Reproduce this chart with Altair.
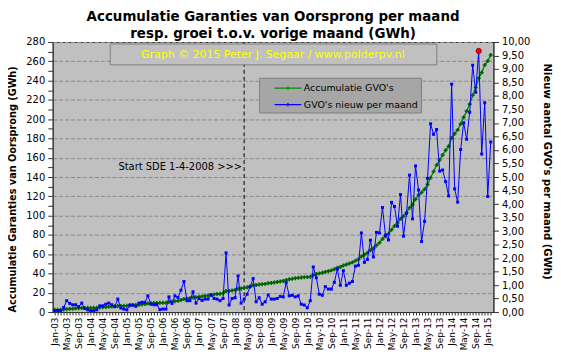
import altair as alt
import pandas as pd

# ---------------- data ----------------
month_names = ["Jan", "Feb", "Mar", "Apr", "May", "Jun", "Jul", "Aug", "Sep", "Oct", "Nov", "Dec"]
years = list(range(2003, 2016))
n_months = 146  # Jan-03 .. Feb-15
months = [f"{m}-{str(y)[2:]}" for y in years for m in month_names][:n_months]

# GVO's nieuw per maand (GWh), right axis
new_monthly = [
    0.05, 0.05, 0.05, 0.17, 0.42, 0.32, 0.27, 0.27, 0.20, 0.33,
    0.13, 0.08, 0.05, 0.05, 0.08, 0.23, 0.23, 0.29, 0.33, 0.27,
    0.20, 0.48, 0.15, 0.11, 0.08, 0.26, 0.26, 0.21, 0.33, 0.36,
    0.36, 0.60, 0.29, 0.27, 0.27, 0.09, 0.11, 0.11, 0.56, 0.32,
    0.60, 0.54, 0.81, 1.13, 0.42, 0.42, 0.75, 0.33, 0.50, 0.43,
    0.48, 0.48, 0.64, 0.50, 0.48, 0.42, 0.50, 2.19, 0.26, 0.50,
    0.53, 1.34, 0.33, 0.48, 0.66, 0.94, 1.24, 0.38, 0.53, 0.29,
    0.38, 0.63, 0.48, 0.48, 0.50, 0.58, 0.56, 1.09, 0.60, 0.62,
    0.56, 0.60, 0.29, 0.26, 0.16, 0.42, 1.67, 1.27, 0.66, 0.62,
    0.94, 0.85, 0.85, 1.10, 1.59, 0.99, 1.53, 0.99, 1.07, 1.13,
    1.70, 1.73, 2.93, 1.84, 1.95, 2.66, 2.04, 2.95, 2.93, 3.87,
    2.85, 2.67, 4.06, 3.91, 3.18, 4.35, 2.81, 3.66, 5.07, 3.45,
    5.41, 4.52, 2.61, 3.36, 4.95, 6.97, 6.58, 6.76, 5.22, 5.26,
    4.83, 4.30, 8.44, 4.56, 4.07, 6.02, 7.01, 6.40, 7.40, 9.14,
    8.14, 9.67, 5.85, 7.75, 4.28, 6.30,
]

# Accumulatie GVO's (GWh), left axis
accumulation = [
    2.4, 2.4, 2.4, 2.6, 3.0, 3.3, 3.5, 3.8, 3.9, 4.2,
    4.3, 4.4, 4.4, 4.4, 4.5, 4.7, 4.9, 5.1, 5.5, 5.7,
    5.9, 6.3, 6.4, 6.5, 6.6, 6.8, 7.0, 7.2, 7.5, 7.9,
    8.2, 8.8, 9.0, 9.3, 9.5, 9.6, 9.6, 9.7, 10.3, 10.6,
    11.1, 11.6, 12.4, 13.5, 13.9, 14.3, 15.0, 15.3, 15.8, 16.2,
    16.7, 17.1, 17.7, 18.2, 18.6, 19.0, 19.5, 21.7, 21.9, 22.4,
    22.9, 24.2, 24.5, 24.9, 25.6, 26.5, 27.7, 28.1, 28.6, 28.8,
    29.2, 29.8, 30.2, 30.7, 31.1, 31.7, 32.2, 33.3, 33.9, 34.5,
    35.0, 35.6, 35.8, 36.1, 36.2, 36.6, 38.2, 39.5, 40.1, 40.7,
    41.6, 42.4, 43.2, 44.3, 45.9, 46.8, 48.3, 49.3, 50.3, 51.5,
    53.1, 54.8, 57.7, 59.5, 61.5, 64.1, 66.1, 69.0, 71.9, 75.8,
    78.6, 81.2, 85.3, 89.2, 92.3, 96.6, 99.4, 103.0, 108.1, 111.5,
    116.9, 121.4, 124.0, 127.3, 132.2, 139.2, 145.7, 152.4, 157.6, 162.9,
    167.7, 171.9, 180.4, 184.9, 188.9, 194.9, 201.9, 208.3, 215.6, 224.8,
    232.9, 242.5, 248.3, 256.1, 260.3, 266.6,
]

series_names = ["Accumulatie GVO's", "GVO's nieuw per maand"]
series_colors = ["#009000", "#0000FF"]
sde_start_index = [63]  # Apr-08
sde_label = ["Start SDE 1-4-2008 >>>"]
credit = ["Graph \u00a9 2015 Peter J. Segaar / www.polderpv.nl"]
title_lines = ["Accumulatie Garanties van Oorsprong per maand",
               "resp. groei t.o.v. vorige maand (GWh)"]
left_title = "Accumulatie Garanties van Oorsprong (GWh)"
right_title = "Nieuw aantal GVO's per maand (GWh)"
left_ticks = list(range(0, 281, 10))
right_ticks = [k / 2 for k in range(0, 21)]

df = pd.DataFrame({
    "i": list(range(n_months)),
    "month": months,
    "new": new_monthly,
    "acc": accumulation,
})

FONT = "DejaVu Sans"

label_arr = "[" + ",".join(("'" + m + "'") if k % 4 == 0 else "''" for k, m in enumerate(months)) + "]"

x_enc = alt.X(
    "i:Q",
    scale=alt.Scale(domain=[-0.66, 145.9], nice=False, zero=False),
    axis=alt.Axis(
        values=list(range(n_months)),
        labelExpr=label_arr + "[datum.value]",
        labelAngle=-90,
        labelFontSize=9,
        labelOverlap=False,
        labelFlush=False,
        labelPadding=2,
        tickSize=3,
        grid=False,
        title=None,
    ),
)

color_enc = alt.Color(
    "series:N",
    scale=alt.Scale(domain=series_names, range=series_colors),
    legend=alt.Legend(
        title=None,
        orient="none",
        legendX=208,
        legendY=36,
        fillColor="#A6A6A6",
        strokeColor="#7F7F7F",
        padding=3,
        rowPadding=4.5,
        symbolType="M-2,0H2M0,-0.25V0.25",
        symbolSize=182,
        symbolStrokeWidth=1.3,
        symbolOffset=18.5,
        labelFont=FONT,
        labelFontSize=9.5,
        labelColor="black",
        labelOffset=8.5,
        labelLimit=300,
        labelExpr="datum.label + '\u00a0\u00a0\u00a0\u00a0'",
    ),
)

y_left = alt.Y(
    "acc:Q",
    scale=alt.Scale(domain=[0, 280], nice=False),
    axis=alt.Axis(
        values=left_ticks,
        labelExpr="datum.value % 20 === 0 ? datum.label : ''",
        labelFontSize=10,
        tickSize=5,
        labelPadding=3,
        grid=True,
        gridColor="#8A8A8A",
        gridDash=[4, 2],
        gridOpacity={"condition": {"test": "datum.value % 20 === 0", "value": 1}, "value": 0},
        title=left_title,
        titleFont=FONT,
        titleFontSize=9.8,
        titleFontWeight="bold",
        titleX=-40,
        titleY=148,
        titleBaseline="middle",
    ),
)

y_right = alt.Y(
    "new:Q",
    scale=alt.Scale(domain=[0, 10], nice=False),
    axis=alt.Axis(
        orient="right",
        values=right_ticks,
        labelExpr="replace(format(datum.value, '.2f'), '.', ',')",
        labelFontSize=10,
        tickSize=5,
        labelPadding=3,
        grid=False,
        title=right_title,
        titleFont=FONT,
        titleFontSize=10.2,
        titleFontWeight="bold",
        titleX=53,
        titleY=130,
        titleBaseline="middle",
    ),
)

base = alt.Chart(df)

sde_df = pd.DataFrame({"i": sde_start_index, "label": sde_label})
sde_rule = alt.Chart(sde_df).mark_rule(color="black", strokeDash=[4, 3], strokeWidth=1).encode(
    x=x_enc
)
sde_text = alt.Chart(sde_df).mark_text(
    align="right", baseline="middle", font=FONT, fontSize=10, color="black", dx=-2
).encode(
    x=x_enc,
    y=alt.value(126),
    text="label:N",
)

green_line = base.mark_line(strokeWidth=1.4).encode(
    x=x_enc, y=y_left, color=color_enc
).transform_calculate(series="\"" + series_names[0] + "\"")
green_pts = base.mark_point(shape="cross", filled=True, size=16, color="#006400", opacity=1).encode(
    x=x_enc, y=y_left
)

left_group = alt.layer(sde_rule, sde_text, green_line, green_pts)

blue_line = base.mark_line(strokeWidth=1).encode(
    x=x_enc, y=y_right, color=color_enc
).transform_calculate(series="\"" + series_names[1] + "\"")
blue_pts = base.mark_square(size=9, color="#0000FF", opacity=1).encode(x=x_enc, y=y_right)
max_pt = base.mark_circle(size=28, color="#FF0000", opacity=1, stroke="#800000", strokeWidth=0.8).encode(
    x=x_enc, y=y_right
).transform_joinaggregate(maxv="max(new)").transform_filter("datum.new == datum.maxv")

right_group = alt.layer(blue_line, blue_pts, max_pt)

credit_df = pd.DataFrame({"t": credit})
credit_box = alt.Chart(credit_df).mark_rect(fill="#C0C0C0", stroke="#7F7F7F", strokeWidth=1).encode(
    x=alt.value(58), x2=alt.value(387), y=alt.value(2), y2=alt.value(23)
)
credit_text = alt.Chart(credit_df).mark_text(
    font=FONT, fontSize=11, color="#FFFF00", align="center", baseline="middle"
).encode(x=alt.value(222), y=alt.value(13), text="t:N")

chart = (
    alt.layer(left_group, right_group, credit_box, credit_text)
    .resolve_scale(y="independent")
    .properties(
        width=444,
        height=272,
        autosize=alt.AutoSizeParams(type="none"),
        padding={"left": 45, "top": 33, "right": 60, "bottom": 40},
        background="white",
        title=alt.Title(
            title_lines,
            font=FONT,
            fontSize=13.5,
            fontWeight="bold",
            color="black",
            anchor="middle",
            offset=6,
            dy=9,
            lineHeight=16.5,
        ),
    )
    .configure_view(fill="#C0C0C0", stroke="#333333", strokeWidth=1)
    .configure_axis(
        labelFont=FONT,
        labelColor="black",
        domainColor="#333333",
        tickColor="#333333",
        titleColor="black",
    )
)

chart.save("out.html", embed_options={"renderer": "svg", "actions": False})
